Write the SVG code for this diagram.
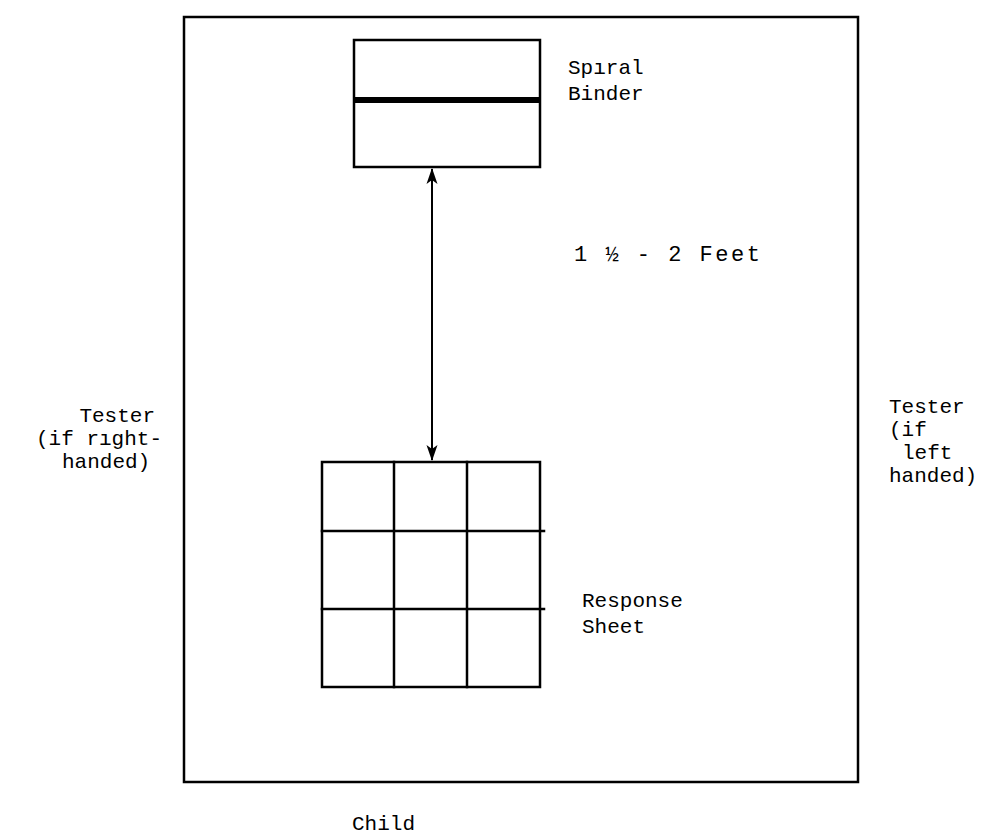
<svg xmlns="http://www.w3.org/2000/svg" width="995" height="836" viewBox="0 0 995 836">
<style>
.ln{stroke:#000;stroke-width:2.5;fill:none;stroke-linecap:square}
.t{font-family:"Liberation Mono","Courier New",monospace;font-size:21px;fill:#000}
</style>
<defs>
<marker id="ah" viewBox="0 0 16 12" refX="15" refY="6" markerWidth="16" markerHeight="12" orient="auto-start-reverse" markerUnits="userSpaceOnUse">
<path d="M0,0.5 L16,6 L0,11.5 L4,6 Z" fill="#000"/>
</marker>
</defs>
<rect width="995" height="836" fill="#fff"/>
<g id="frame"><rect class="ln" x="184" y="17" width="674" height="765"/></g>
<g id="spiral-binder">
<rect class="ln" x="354" y="40" width="186" height="127"/>
<line x1="354" y1="100" x2="540" y2="100" stroke="#000" stroke-width="6"/>
<text class="t" x="568" y="74">Spıral</text>
<text class="t" x="568" y="100">Binder</text>
</g>
<g id="response-sheet">
<rect class="ln" x="322" y="462" width="218" height="225"/>
<line class="ln" x1="394" y1="462" x2="394" y2="687"/>
<line class="ln" x1="467" y1="462" x2="467" y2="687"/>
<line class="ln" x1="322" y1="531" x2="544" y2="531"/>
<line class="ln" x1="322" y1="609" x2="544" y2="609"/>
<text class="t" x="582" y="607">Response</text>
<text class="t" x="582" y="633">Sheet</text>
</g>
<g id="connectors">
<line x1="432" y1="169" x2="432" y2="460" stroke="#000" stroke-width="2" marker-start="url(#ah)" marker-end="url(#ah)"/>
<text class="t" x="574" y="261" style="font-size:22px;letter-spacing:2.5px">1 ½ - 2 Feet</text>
</g>
<g id="tester-right-handed">
<text class="t" x="155" y="422" text-anchor="end">Tester</text>
<text class="t" x="36" y="445">(if rıght-</text>
<text class="t" x="62" y="468">handed)</text>
</g>
<g id="tester-left-handed">
<text class="t" x="889" y="413">Tester</text>
<text class="t" x="889" y="436">(if</text>
<text class="t" x="902" y="459">left</text>
<text class="t" x="889" y="482">handed)</text>
</g>
<g id="child"><text class="t" x="352" y="830">Child</text></g>
</svg>
